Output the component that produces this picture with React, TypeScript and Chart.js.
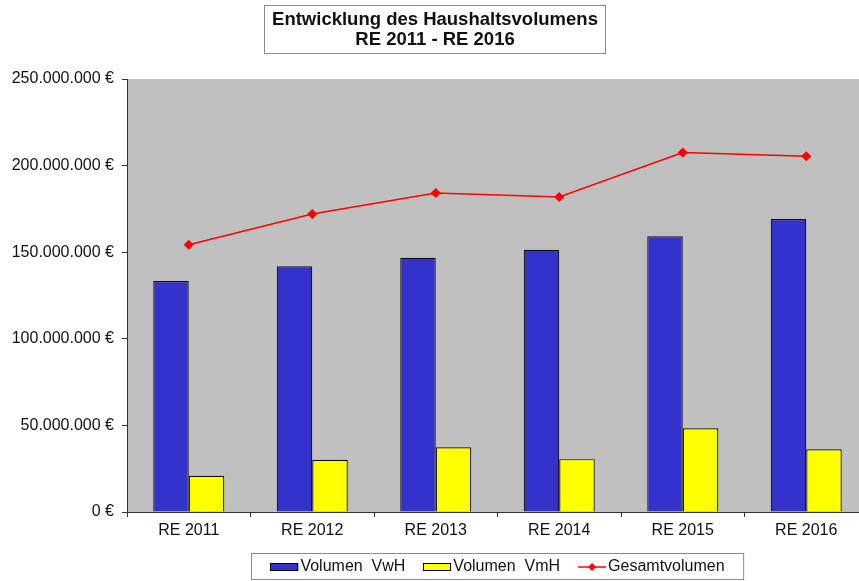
import React, { useEffect, useRef } from "react";
import { Chart, registerables } from "chart.js";

Chart.register(...registerables);

const categories = ["RE 2011", "RE 2012", "RE 2013", "RE 2014", "RE 2015", "RE 2016"];
const volumenVwH = [133400000, 141900000, 146800000, 151400000, 159200000, 169200000];
const volumenVmH = [20900000, 30100000, 37400000, 30500000, 48300000, 36200000];
const gesamtvolumen = [154300000, 172000000, 184200000, 181900000, 207500000, 205400000];
const seriesLabels = ["Volumen  VwH", "Volumen  VmH", "Gesamtvolumen"];
const titleLines = ["Entwicklung des Haushaltsvolumens", "RE 2011 - RE 2016"];
const yMin = 0;
const yMax = 250000000;
const yStep = 50000000;

const FONT = "'Liberation Sans', Arial, sans-serif";
const TEXT = "#111111";

function formatEuro(v: number): string {
  const s = Math.round(v).toString().replace(/\B(?=(\d{3})+(?!\d))/g, ".");
  return s + " €";
}

const backgroundPlugin = {
  id: "plotBackground",
  beforeDraw(chart: any) {
    const { ctx, chartArea } = chart;
    ctx.save();
    ctx.fillStyle = "#C0C0C0";
    ctx.fillRect(chartArea.left, chartArea.top, chartArea.right - chartArea.left, chartArea.bottom - chartArea.top);
    ctx.restore();
  },
};

const titlePlugin = {
  id: "boxedTitle",
  afterDraw(chart: any) {
    const ctx = chart.ctx;
    ctx.save();
    ctx.strokeStyle = "#8c8c8c";
    ctx.lineWidth = 1;
    ctx.strokeRect(264.5, 5.5, 341, 48);
    ctx.fillStyle = TEXT;
    ctx.font = `bold 18.5px ${FONT}`;
    ctx.textAlign = "center";
    ctx.textBaseline = "middle";
    ctx.fillText(titleLines[0], 435, 20);
    ctx.fillText(titleLines[1], 435, 40);
    ctx.restore();
  },
};

const legendPlugin = {
  id: "boxedLegend",
  afterDraw(chart: any) {
    const ctx = chart.ctx;
    const area = chart.chartArea;
    const datasets = chart.data.datasets;
    ctx.save();
    ctx.font = `16px ${FONT}`;
    const swatchW = 28;
    const gapText = 2;
    const gapItem = 18;
    const widths = datasets.map((d: any) => swatchW + gapText + ctx.measureText(d.label).width);
    const total = widths.reduce((a: number, b: number) => a + b, 0) + gapItem * (datasets.length - 1);
    const center = (area.left + area.right) / 2;
    const padX = 19;
    const top = 553.5;
    const bottom = 579.5;
    const left = Math.round(center - total / 2 - padX) + 0.5;
    ctx.strokeStyle = "#8c8c8c";
    ctx.lineWidth = 1;
    ctx.strokeRect(left, top, total + padX * 2, bottom - top);
    let x = center - total / 2;
    const cy = 567;
    datasets.forEach((d: any, i: number) => {
      if (d.type === "line") {
        ctx.strokeStyle = d.borderColor;
        ctx.lineWidth = 1.5;
        ctx.beginPath();
        ctx.moveTo(x, cy);
        ctx.lineTo(x + swatchW, cy);
        ctx.stroke();
        ctx.fillStyle = d.pointBackgroundColor;
        const mx = x + swatchW / 2;
        ctx.beginPath();
        ctx.moveTo(mx, cy - 4);
        ctx.lineTo(mx + 4, cy);
        ctx.lineTo(mx, cy + 4);
        ctx.lineTo(mx - 4, cy);
        ctx.closePath();
        ctx.fill();
      } else {
        ctx.fillStyle = d.backgroundColor;
        ctx.fillRect(x, cy - 4, swatchW, 8);
        ctx.strokeStyle = "#000";
        ctx.lineWidth = 1;
        ctx.strokeRect(Math.round(x) + 0.5, cy - 4 + 0.5, swatchW - 1, 7);
      }
      ctx.fillStyle = TEXT;
      ctx.textAlign = "left";
      ctx.textBaseline = "middle";
      ctx.fillText(d.label, x + swatchW + gapText, cy);
      x += widths[i] + gapItem;
    });
    ctx.restore();
  },
};

export default function App() {
  const ref = useRef<HTMLCanvasElement | null>(null);
  useEffect(() => {
    document.documentElement.style.overflow = "hidden";
    document.body.style.overflow = "hidden";
    const canvas = ref.current;
    if (!canvas) return;
    const chart = new Chart(canvas, {
      type: "bar",
      data: {
        labels: categories,
        datasets: [
          {
            type: "bar",
            label: seriesLabels[0],
            data: volumenVwH,
            backgroundColor: "#3333CC",
            borderColor: "#111111",
            borderWidth: 1.2,
            barPercentage: 1,
            categoryPercentage: 0.575,
            order: 2,
          } as any,
          {
            type: "bar",
            label: seriesLabels[1],
            data: volumenVmH,
            backgroundColor: "#FFFF00",
            borderColor: "#111111",
            borderWidth: 1.2,
            barPercentage: 1,
            categoryPercentage: 0.575,
            order: 2,
          } as any,
          {
            type: "line",
            label: seriesLabels[2],
            data: gesamtvolumen,
            borderColor: "#FF0000",
            backgroundColor: "#FF0000",
            pointBackgroundColor: "#FF0000",
            pointBorderColor: "#FF0000",
            pointStyle: "rectRot",
            pointRadius: 4,
            borderWidth: 1.5,
            tension: 0,
            fill: false,
            order: 1,
          } as any,
        ],
      },
      options: {
        responsive: false,
        animation: false,
        devicePixelRatio: 1,
        layout: { padding: { top: 79, right: 126, bottom: 0, left: 0 } },
        plugins: {
          legend: { display: false },
          title: { display: false },
          tooltip: { enabled: false },
        },
        scales: {
          x: {
            offset: true,
            grid: {
              display: true,
              offset: true,
              drawOnChartArea: false,
              drawTicks: true,
              tickLength: 5,
              color: "#333333",
            },
            border: { display: true, color: "#333333", width: 1 },
            ticks: {
              color: TEXT,
              font: { family: FONT, size: 16 },
              padding: 4,
              maxRotation: 0,
            },
            afterFit(scale: any) {
              scale.height = 69;
            },
          },
          y: {
            min: yMin,
            max: yMax,
            grid: {
              display: true,
              drawOnChartArea: false,
              drawTicks: true,
              tickLength: 5,
              color: "#333333",
            },
            border: { display: true, color: "#333333", width: 1 },
            ticks: {
              stepSize: yStep,
              color: TEXT,
              font: { family: FONT, size: 16 },
              padding: 8,
              callback: (v: any) => formatEuro(Number(v)),
            },
            afterFit(scale: any) {
              scale.width = 127;
            },
          },
        },
      },
      plugins: [backgroundPlugin, titlePlugin, legendPlugin],
    });
    return () => chart.destroy();
  }, []);
  return (
    <canvas
      ref={ref}
      width={994}
      height={581}
      style={{ position: "fixed", left: 0, top: 0, width: 994, height: 581, display: "block" }}
    />
  );
}
